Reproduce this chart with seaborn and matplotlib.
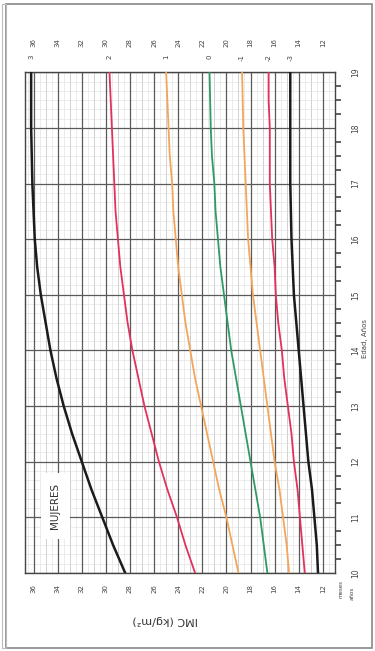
import matplotlib
matplotlib.use("Agg")
import matplotlib.pyplot as plt
import matplotlib.transforms as mtransforms
from matplotlib.patches import Rectangle
import numpy as np
import pandas as pd
import seaborn as sns

# edad (años) y curvas de IMC (kg/m2) por puntuación z
ages = [10, 10.5, 11, 11.5, 12, 12.5, 13, 13.5, 14, 14.5,
        15, 15.5, 16, 16.5, 17, 17.5, 18, 18.5, 19]
z_p3 = [28.4, 29.4, 30.3, 31.2, 32.0, 32.8, 33.5, 34.1, 34.6, 35.0,
        35.4, 35.7, 35.9, 36.0, 36.1, 36.15, 36.2, 36.2, 36.2]
z_p2 = [22.6, 23.4, 24.1, 24.9, 25.6, 26.2, 26.8, 27.3, 27.8, 28.2,
        28.5, 28.8, 29.0, 29.2, 29.3, 29.4, 29.5, 29.6, 29.7]
z_p1 = [19.0, 19.5, 20.0, 20.6, 21.1, 21.6, 22.1, 22.6, 23.0, 23.4,
        23.7, 24.0, 24.2, 24.4, 24.5, 24.7, 24.8, 24.9, 25.0]
z_0 = [16.6, 16.9, 17.2, 17.6, 18.0, 18.4, 18.8, 19.2, 19.6, 19.9,
       20.2, 20.5, 20.7, 20.9, 21.0, 21.2, 21.3, 21.35, 21.4]
z_m1 = [14.8, 15.0, 15.3, 15.6, 16.0, 16.3, 16.6, 16.9, 17.2, 17.5,
        17.8, 18.0, 18.2, 18.3, 18.4, 18.5, 18.6, 18.65, 18.7]
z_m2 = [13.5, 13.7, 13.9, 14.1, 14.4, 14.6, 14.9, 15.2, 15.4, 15.7,
        15.9, 16.0, 16.2, 16.3, 16.4, 16.4, 16.4, 16.5, 16.5]
z_m3 = [12.4, 12.5, 12.7, 12.9, 13.2, 13.4, 13.6, 13.8, 14.0, 14.2,
        14.4, 14.5, 14.6, 14.65, 14.7, 14.7, 14.7, 14.7, 14.7]

curve_names = ["3", "2", "1", "0", "-1", "-2", "-3"]
curve_values = [z_p3, z_p2, z_p1, z_0, z_m1, z_m2, z_m3]
curve_colors = ["#1b1b1b", "#e0325c", "#f4a55c", "#2f9a64", "#f4a55c", "#e0325c", "#1b1b1b"]
curve_widths = [1.8, 1.3, 1.3, 1.3, 1.3, 1.3, 1.8]

bmi_ticks = list(range(12, 37, 2))
age_ticks = list(range(10, 20))

sns.set_style("white")
plt.rcParams['font.family'] = ['DejaVu Sans']

fig = plt.figure(figsize=(3.75, 6.51), dpi=100)
ax = fig.add_axes([0.067, 0.12, 0.826, 0.769])

# cuadricula
for v in np.arange(11, 37.01, 0.5):
    ax.axvline(v, color="#dedede", lw=0.4, zorder=0)
for v in np.arange(11, 37.01, 1):
    ax.axvline(v, color="#c4c4c4", lw=0.5, zorder=0)
for v in bmi_ticks:
    ax.axvline(v, color="#5a5a5a", lw=0.9, zorder=1)
for a in np.arange(10, 19.01, 1 / 6):
    ax.axhline(a, color="#dedede", lw=0.4, zorder=0)
for a in age_ticks:
    ax.axhline(a, color="#5a5a5a", lw=0.9, zorder=1)

for name, vals, col, lw in zip(curve_names, curve_values, curve_colors, curve_widths):
    df = pd.DataFrame({"edad": ages, "imc": vals})
    sns.lineplot(data=df, x="imc", y="edad", sort=False, orient="y",
                 color=col, lw=lw, ax=ax, zorder=3)

ax.set_xlim(36.7, 11.0)
ax.set_ylim(10, 19)
ax.set_xlabel("")
ax.set_ylabel("")

ax.set_xticks(bmi_ticks)
ax.set_xticklabels([str(v) for v in bmi_ticks], rotation=90, fontsize=5, color="#444444")
ax.tick_params(axis="x", length=0, pad=8)

ax.yaxis.tick_right()
ax.set_yticks(age_ticks)
ax.set_yticklabels([str(a) for a in age_ticks], rotation=90, fontsize=5.5,
                   color="#444444", va="center")
ax.set_yticks(np.arange(10, 19.01, 0.25), minor=True)
ax.tick_params(axis="y", which="both", direction="out", length=4, width=1.2,
               color="#444444", pad=6)
ax.tick_params(axis="y", which="major", length=0, pad=12)

for s in ax.spines.values():
    s.set_color("#444444")
    s.set_linewidth(1.0)

# etiquetas superiores (eje derecho del original)
top = mtransforms.blended_transform_factory(ax.transData, ax.transAxes)
for v in bmi_ticks:
    ax.text(v, 1.06, str(v), transform=top, rotation=90, fontsize=5,
            color="#444444", ha="center", va="center")
for name, vals in zip(curve_names, curve_values):
    ax.text(vals[-1], 1.03, name, transform=top, rotation=90, fontsize=5,
            color="#444444", ha="center", va="center")

ax.text(34.2, 11.2, "MUJERES", rotation=90, fontsize=7.5, color="#333333",
        ha="center", va="center", zorder=4,
        bbox=dict(facecolor="white", edgecolor="none", pad=7))

fig.text(0.44, 0.047, "IMC (kg/m²)", rotation=180, fontsize=8,
         color="#333333", ha="center", va="center")
fig.text(0.973, 0.48, "Edad, Años", rotation=90, fontsize=5,
         color="#444444", ha="center", va="center")
fig.text(0.91, 0.095, "meses", rotation=90, fontsize=4, color="#444444",
         ha="center", va="center")
fig.text(0.94, 0.088, "años", rotation=90, fontsize=4, color="#444444",
         ha="center", va="center")

fig.patches.append(Rectangle((0.016, 0.005), 0.976, 0.989, transform=fig.transFigure,
                             fill=False, edgecolor="#888888", lw=1.2))
fig.patches.append(Rectangle((0.005, 0.005), 0.011, 0.989, transform=fig.transFigure,
                             fill=False, edgecolor="#bbbbbb", lw=0.8))

fig.savefig("out.png", dpi=100)
